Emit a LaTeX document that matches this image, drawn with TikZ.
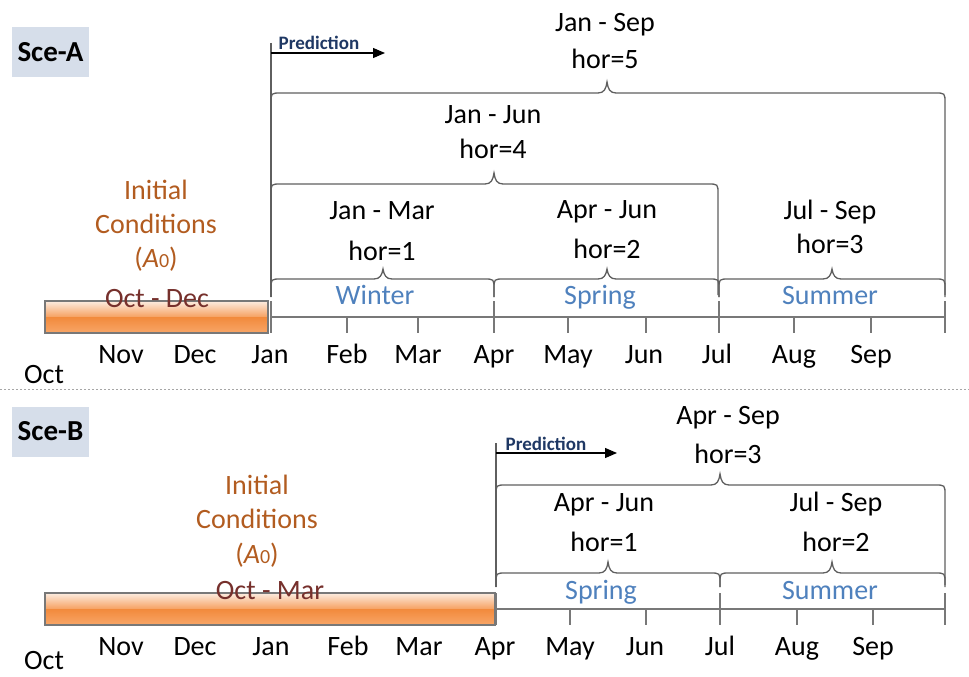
\documentclass[tikz,border=0pt]{standalone}
\usepackage{fontspec}
\setmainfont{Carlito}
\usetikzlibrary{arrows.meta}

\definecolor{linegray}{RGB}{95,95,95}
\definecolor{tickgray}{RGB}{120,120,120}
\definecolor{seasonblue}{RGB}{79,129,189}
\definecolor{icorange}{RGB}{178,92,32}
\definecolor{icbrown}{RGB}{118,48,44}
\definecolor{prednavy}{RGB}{31,56,100}
\definecolor{scefill}{RGB}{214,222,234}
\definecolor{barlight}{RGB}{252,236,224}
\definecolor{barmid}{RGB}{246,160,96}
\definecolor{bardeep}{RGB}{242,138,60}
\definecolor{barlow}{RGB}{248,166,104}

\tikzset{
  txt/.style={anchor=base, inner sep=0pt, font=\fontsize{28}{32}\selectfont},
  season/.style={txt, text=seasonblue},
  initc/.style={txt, text=icorange},
  period/.style={txt, text=icbrown},
  month/.style={txt},
  scebox/.style={fill=scefill, minimum width=77pt, minimum height=50pt, inner sep=0pt,
    font=\fontsize{29}{32}\selectfont\bfseries},
  predtxt/.style={anchor=base, inner sep=0pt, text=prednavy, font=\fontsize{19}{22}\selectfont\bfseries},
  bracestyle/.style={draw=linegray, line width=1.3pt},
  axisline/.style={draw=tickgray, line width=1.2pt},
  predline/.style={draw=linegray, line width=1.3pt},
  predarrow/.style={draw=black, line width=1.1pt, -{Triangle[length=12pt,width=10pt]}},
}

% curly brace opening downwards: x1, x2, top y, end y, tip x, tip y
\newcommand\tlbrace[6]{%
  \draw[bracestyle] (#1,#4) -- (#1,{#3+10})
    .. controls (#1,#3) .. ({#1+10},#3) -- ({#5-9},#3)
    .. controls ({#5-3},#3) and ({#5-1},{#3-4}) .. (#5,#6)
    .. controls ({#5+1},{#3-4}) and ({#5+3},#3) .. ({#5+9},#3)
    -- ({#2-10},#3) .. controls (#2,#3) .. (#2,{#3+10}) -- (#2,#4);}

% orange initial-conditions bar: x1, x2, top y, bottom y
\newcommand\icbar[4]{%
  \shade[top color=barlight, bottom color=barmid] (#1,#3) rectangle (#2,{(#3+#4)/2});
  \shade[top color=bardeep, bottom color=barlow] (#2,{(#3+#4)/2}) rectangle (#1,#4);
  \draw[tickgray, line width=1.1pt] (#1,#3) rectangle (#2,#4);}

\begin{document}
\begin{tikzpicture}[x=1pt, y=-1pt]
\useasboundingbox (0,0) rectangle (969,677);

% ---------------- Scenario A ----------------
\node[scebox] (sceA) at (50.5,52) {Sce-A};

% prediction start line and arrow
\coordinate (pAtop) at (271,43);
\coordinate (pAbot) at (271,297);
\coordinate (pAs) at (271,53);
\coordinate (pAe) at (385,53);
\draw[predline] (pAtop) -- (pAbot);
\draw[predarrow] (pAs) -- (pAe);
\node[predtxt] (predA) at (319,50) {Prediction};

% braces
\tlbrace{271}{945}{93}{295}{607}{82}
\tlbrace{271}{718}{184}{295}{494}{173}
\tlbrace{271}{494}{279}{297}{383}{269}
\tlbrace{494}{719}{279}{297}{607}{269}
\tlbrace{719}{945}{279}{297}{832}{269}

% initial conditions bar
\icbar{45}{268}{301}{333}

% time axis
\draw[axisline] (270,317) -- (945,317);
\foreach \x in {271,494,719,945} \draw[axisline] (\x,301) -- (\x,333);
\foreach \x in {347,418,568,646,794,871} \draw[axisline] (\x,317) -- (\x,333);

% period labels
\node[txt] (aJanSep) at (605,32) {Jan - Sep};
\node[txt] (aHor5) at (605,68) {hor=5};
\node[txt] (aJanJun) at (493,123) {Jan - Jun};
\node[txt] (aHor4) at (493,158) {hor=4};
\node[txt] (aJanMar) at (382,219) {Jan - Mar};
\node[txt] (aHor1) at (382,260) {hor=1};
\node[txt] (aAprJun) at (607,218) {Apr - Jun};
\node[txt] (aHor2) at (607,258) {hor=2};
\node[txt] (aJulSep) at (830,219) {Jul - Sep};
\node[txt] (aHor3) at (830,253) {hor=3};
\node[season] (aWinter) at (375,304) {Winter};
\node[season] (aSpring) at (600,304) {Spring};
\node[season] (aSummer) at (830,304) {Summer};

% initial conditions
\node[initc] (aIni) at (156,199) {Initial};
\node[initc] (aCond) at (156,233) {Conditions};
\node[initc] (aA0) at (156,267) {(\textit{A}{\fontsize{20}{20}\selectfont 0})};
\node[period] (aOctDec) at (157,307) {Oct - Dec};

% months
\foreach \m/\x in {Nov/121,Dec/195,Jan/270,Feb/347,Mar/418,Apr/494,May/568,Jun/644,Jul/717,Aug/794,Sep/871}
  \node[month] (aM\m) at (\x,363) {\m};
\node[month] (aMOct) at (44,383) {Oct};

% separator
\draw[gray!70, line width=1pt, dash pattern=on 1.5pt off 2.5pt] (0,389) -- (969,389);

% ---------------- Scenario B ----------------
\node[scebox] (sceB) at (50.5,431.5) {Sce-B};

\coordinate (pBtop) at (496,443);
\coordinate (pBbot) at (496,587);
\coordinate (pBs) at (496,453);
\coordinate (pBe) at (617,453);
\draw[predline] (pBtop) -- (pBbot);
\draw[predarrow] (pBs) -- (pBe);
\node[predtxt] (predB) at (546,450) {Prediction};

\tlbrace{496}{945}{485}{585}{720}{474}
\tlbrace{496}{720}{573}{587}{608}{562}
\tlbrace{720}{945}{573}{587}{832}{562}

\icbar{45}{495}{593}{625}

\draw[axisline] (496,609) -- (945,609);
\foreach \x in {496,720,945} \draw[axisline] (\x,593) -- (\x,625);
\foreach \x in {570,646,797,873} \draw[axisline] (\x,609) -- (\x,625);

\node[txt] (bAprSep) at (728,424) {Apr - Sep};
\node[txt] (bHor3) at (728,463) {hor=3};
\node[txt] (bAprJun) at (604,511) {Apr - Jun};
\node[txt] (bHor1) at (604,551) {hor=1};
\node[txt] (bJulSep) at (836,511) {Jul - Sep};
\node[txt] (bHor2) at (836,551) {hor=2};
\node[season] (bSpring) at (601,599) {Spring};
\node[season] (bSummer) at (830,599) {Summer};

\node[initc] (bIni) at (257,494) {Initial};
\node[initc] (bCond) at (257,528) {Conditions};
\node[initc] (bA0) at (257,563) {(\textit{A}{\fontsize{20}{20}\selectfont 0})};
\node[period] (bOctMar) at (270,599) {Oct - Mar};

\foreach \m/\x in {Nov/121,Dec/195,Jan/271,Feb/348,Mar/419,Apr/495,May/570,Jun/645,Jul/720,Aug/797,Sep/873}
  \node[month] (bM\m) at (\x,655) {\m};
\node[month] (bMOct) at (44,669) {Oct};

\end{tikzpicture}
\end{document}
